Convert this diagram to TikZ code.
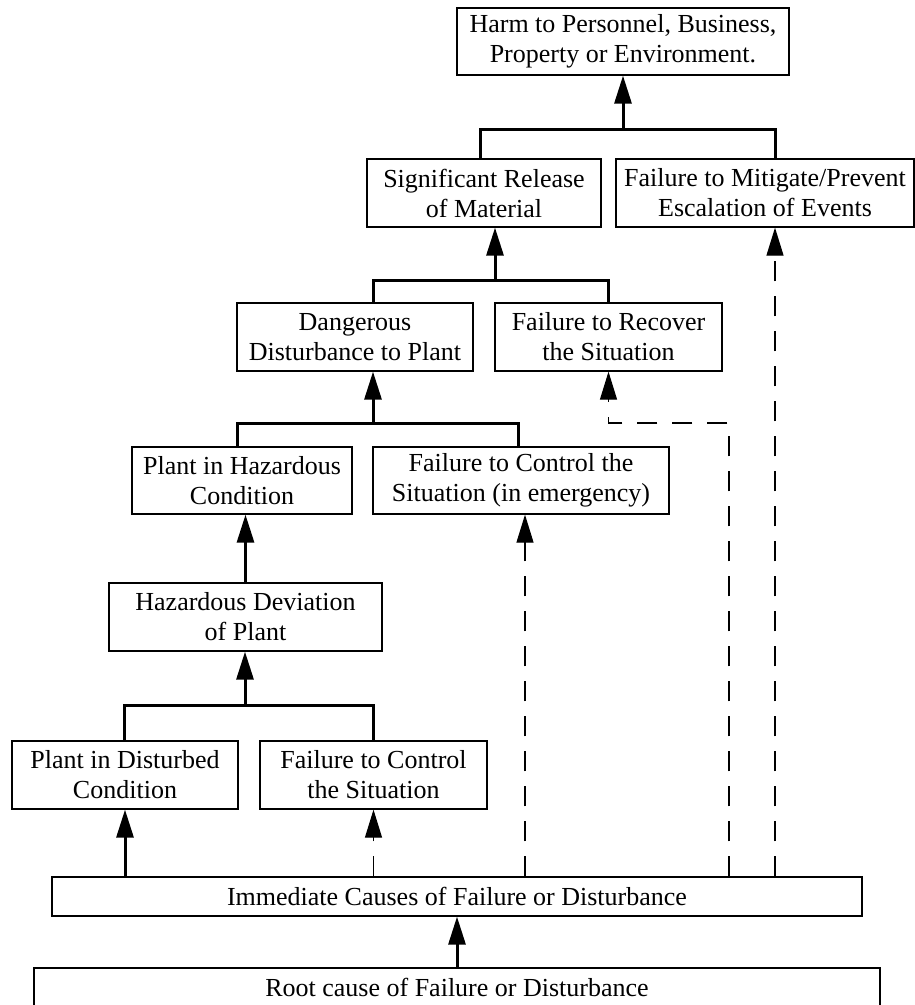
\documentclass[tikz,border=0pt]{standalone}
\usepackage{fontspec}
\setmainfont{Liberation Serif}
\usetikzlibrary{arrows.meta}

\tikzset{
  blk/.style={draw, line width=1.3pt, align=center, inner sep=0pt,
    font=\fontsize{26}{30}\selectfont},
  trunk/.style={line width=3pt},
  up/.style={trunk, -{Triangle[length=28pt,width=17pt]}},
  feed/.style={line width=1.2pt, dash pattern=on 20pt off 15pt,
    -{Triangle[length=28pt,width=17pt]}},
}

\begin{document}
\begin{tikzpicture}[x=1pt,y=-1pt]
    \useasboundingbox (0,0) rectangle (915,1005);

    \node (harm) at (623,41.5) [blk, minimum width=332pt, minimum height=67pt] {Harm to Personnel, Business,\\Property or Environment.};

    \node (sig) at (484,193) [blk, minimum width=234pt, minimum height=68pt] {Significant Release\\of Material};
    \node (mit) at (765,193) [blk, minimum width=298pt, minimum height=68pt] {Failure to Mitigate/Prevent\\Escalation of Events};

    \node (dang) at (355,337) [blk, minimum width=236pt, minimum height=68pt] {Dangerous\\Disturbance to Plant};
    \node (recov) at (608.5,337) [blk, minimum width=227pt, minimum height=68pt] {Failure to Recover\\the Situation};

    \node (hazc) at (242,480.5) [blk, minimum width=220pt, minimum height=67pt] {Plant in Hazardous\\Condition};
    \node (ctrle) at (521,480.5) [blk, minimum width=296pt, minimum height=67pt] {Failure to Control the\\Situation (in emergency)};

    \node (hdev) at (245.5,617) [blk, minimum width=273pt, minimum height=68pt] {Hazardous Deviation\\of Plant};

    \node (dist) at (125,775) [blk, minimum width=226pt, minimum height=68pt] {Plant in Disturbed\\Condition};
    \node (ctrl) at (373.5,775) [blk, minimum width=227pt, minimum height=68pt] {Failure to Control\\the Situation};

    \node (imm) at (457,896.5) [blk, minimum width=810pt, minimum height=39pt] {Immediate Causes of Failure or Disturbance};
    \node (root) at (457,987.5) [blk, minimum width=846pt, minimum height=39pt] {Root cause of Failure or Disturbance};

    % junctions
    \coordinate (j1) at (623,129);
    \coordinate (j2) at (495,280);
    \coordinate (j3) at (373,423);
    \coordinate (j4) at (245,705);
    \coordinate (k3) at (729,423);

    \draw[trunk] ([xshift=-4pt]sig.north) |- (j1) -| ([xshift=10pt]mit.north);
    \draw[up] (j1) -- (harm.south);
    \draw[trunk] ([xshift=18pt]dang.north) |- (j2) -| (recov.north);
    \draw[up] (j2) -- (j2 |- sig.south);
    \draw[trunk] ([xshift=-5pt]hazc.north) |- (j3) -| ([xshift=-3pt]ctrle.north);
    \draw[up] (j3) -- (j3 |- dang.south);
    \draw[up] (hdev.north) -- (hdev.north |- hazc.south);
    \draw[trunk] ([xshift=-1pt]dist.north) |- (j4) -| (ctrl.north);
    \draw[up] (j4) -- (j4 |- hdev.south);
    \draw[up] (imm.north -| dist.south) -- (dist.south);
    \draw[up] (root.north) -- (imm.south);

    % dashed feeds from the immediate causes
    \draw[feed] (imm.north -| ctrl.south) -- (ctrl.south);
    \draw[feed] ([xshift=4pt]ctrle.south |- imm.north) -- ([xshift=4pt]ctrle.south);
    \draw[feed] (k3 |- imm.north) -- (k3) -| (recov.south);
    \draw[feed] ([xshift=10pt]mit.south |- imm.north) -- ([xshift=10pt]mit.south);
\end{tikzpicture}
\end{document}
